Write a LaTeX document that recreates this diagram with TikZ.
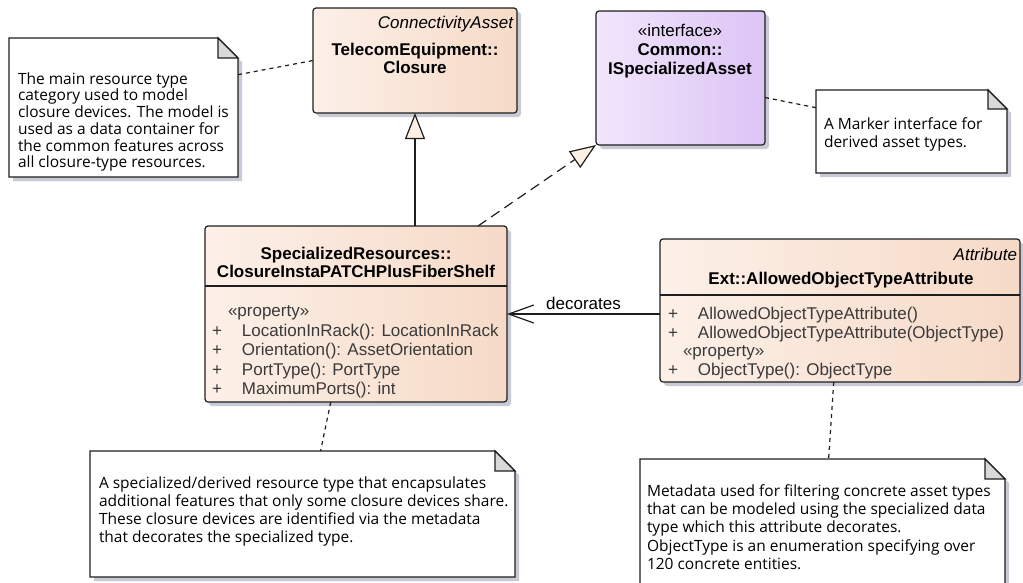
\documentclass[tikz,border=0pt]{standalone}
\usepackage{fontspec}
\setmainfont{Liberation Sans}
\newfontfamily\notefont{Open Sans}
\usetikzlibrary{shapes,arrows.meta,positioning,shadows,calc}

\definecolor{boxline}{HTML}{1E1E1E}
\definecolor{clsleft}{HTML}{FCF0E8}
\definecolor{clsright}{HTML}{F6DAC7}
\definecolor{ifleft}{HTML}{F1E6FC}
\definecolor{ifright}{HTML}{DCC4F5}
\definecolor{shadowgrey}{HTML}{C8CBD5}
\definecolor{foldgrey}{HTML}{D9D9D9}
\definecolor{membergrey}{HTML}{3A3A3A}
\definecolor{headcream}{HTML}{FCF1E4}

\newcommand{\umlplus}{\makebox[30pt][l]{+}}
\newcommand{\umlnote}[2]{%
  \draw[notefill] (#1.north west) -- ([xshift=-#2]#1.north east)
    -- ([yshift=-#2]#1.north east) -- (#1.south east) -- (#1.south west) -- cycle;
  \draw[notefold] ([xshift=-#2]#1.north east) |- ([yshift=-#2]#1.north east) -- cycle;}

\begin{document}
\begin{tikzpicture}[x=1pt, y=-1pt,
  every node/.style={inner sep=0pt, outer sep=0pt},
  umlclass/.style={rectangle, rounded corners=3pt, draw=boxline, line width=1.2pt,
    left color=clsleft, right color=clsright, anchor=north west,
    drop shadow={shadow xshift=4pt, shadow yshift=-4pt, fill=shadowgrey, opacity=1}},
  umliface/.style={umlclass, left color=ifleft, right color=ifright},
  clsname/.style={font=\bfseries\fontsize{17}{18.8}\selectfont, align=center},
  stereo/.style={font=\itshape\fontsize{17}{18.8}\selectfont, anchor=east},
  members/.style={font=\fontsize{17}{19.6}\selectfont, text=membergrey, align=left, anchor=north west},
  boxrule/.style={draw=boxline, line width=1.2pt},
  notebox/.style={rectangle, anchor=north west},
  notetext/.style={font=\notefont\fontsize{15.5}{18}\selectfont, align=left, anchor=north west},
  notefill/.style={draw=boxline, line width=1.2pt, fill=white,
    drop shadow={shadow xshift=4pt, shadow yshift=-4pt, fill=shadowgrey, opacity=1}},
  notefold/.style={draw=boxline, line width=1.2pt, fill=foldgrey},
  notelink/.style={draw=boxline, line width=1.2pt, dash pattern=on 4pt off 4pt},
  gen/.style={draw=boxline, line width=1.2pt, -{Triangle[length=26pt, width=20pt, fill=headcream]}},
  real/.style={gen, dash pattern=on 10pt off 6pt},
  assoc/.style={draw=boxline, line width=1.2pt, -{Straight Barb[length=25pt, width=18pt]}}]

\useasboundingbox (0,0) rectangle (1023,582);
\clip (0,0) rectangle (1023,582);

% classes
\node[umlclass, minimum width=204pt, minimum height=105pt] (closure) at (313,8) {};
\node[stereo] (closurestereo) at (513,24) {ConnectivityAsset};
\node[clsname] (closurename) at (415,58.5) {TelecomEquipment::\\Closure};

\node[umliface, minimum width=169pt, minimum height=134pt] (iface) at (596,11) {};
\node[clsname] (ifacename) at (680,51) {{\mdseries «interface»}\\Common::\\ISpecializedAsset};

\node[umlclass, minimum width=302pt, minimum height=176pt] (spec) at (205,226) {};
\node[clsname] (specname) at (356,262.5) {SpecializedResources::\\ClosureInstaPATCHPlusFiberShelf};
\draw[boxrule] ([yshift=-60pt]spec.north west) -- ([yshift=-60pt]spec.north east);
\node[members] (specmembers) at (212,305.5) {\hspace*{16pt}«property»\\
  \umlplus LocationInRack(): LocationInRack\\
  \umlplus Orientation(): AssetOrientation\\
  \umlplus PortType(): PortType\\
  \umlplus MaximumPorts(): int};

\node[umlclass, minimum width=360pt, minimum height=143pt] (attr) at (660,239) {};
\node[stereo] (attrstereo) at (1017,254) {Attribute};
\node[clsname] (attrname) at (841,280) {Ext::AllowedObjectTypeAttribute};
\draw[boxrule] ([yshift=-56pt]attr.north west) -- ([yshift=-56pt]attr.north east);
\node[members, font=\fontsize{17}{18.5}\selectfont] (attrmembers) at (668,307.5) {\umlplus AllowedObjectTypeAttribute()\\
  \umlplus AllowedObjectTypeAttribute(ObjectType)\\
  \hspace*{15pt}«property»\\
  \umlplus ObjectType(): ObjectType};

% notes
\node[notebox, minimum width=229pt, minimum height=139pt] (note1) at (9,38) {};
\umlnote{note1}{20pt}
\node[notetext, font=\notefont\fontsize{15.5}{16.7}\selectfont] (note1text) at (18,72.5) {The main resource type\\category used to model\\closure devices. The model is\\used as a data container for\\the common features across\\all closure-type resources.};

\node[notebox, minimum width=191pt, minimum height=83pt] (note2) at (816,90) {};
\umlnote{note2}{19pt}
\node[notetext] (note2text) at (824,117.5) {A Marker interface for\\derived asset types.};

\node[notebox, minimum width=425pt, minimum height=126pt] (note3) at (90,451) {};
\umlnote{note3}{20pt}
\node[notetext] (note3text) at (99,476.5) {A specialized/derived resource type that encapsulates\\additional features that only some closure devices share.\\These closure devices are identified via the metadata\\that decorates the specialized type.};

\node[notebox, minimum width=365pt, minimum height=140pt] (note4) at (640,459) {};
\umlnote{note4}{20pt}
\node[notetext, font=\notefont\fontsize{15.5}{18.3}\selectfont] (note4text) at (647,484.5) {Metadata used for filtering concrete asset types\\that can be modeled using the specialized data\\type which this attribute decorates.\\ObjectType is an enumeration specifying over\\120 concrete entities.};

% connectors
\draw[gen] (closure.south |- spec.north) -- (closure.south);
\draw[real] ([xshift=-29pt]spec.north east) -- (iface.south west);
\draw[assoc] (attr.west |- spec.east) -- (spec.east)
  node[midway, above=4pt, font=\fontsize{17}{18}\selectfont] (decolabel) {decorates};
\draw[notelink] (note1.16) -- (closure.west);
\draw[notelink] (iface.-13) -- (note2.166);
\draw[notelink] (spec.254) -- (note3.74);
\draw[notelink] (attr.265) -- (note4.85);
\end{tikzpicture}
\end{document}
